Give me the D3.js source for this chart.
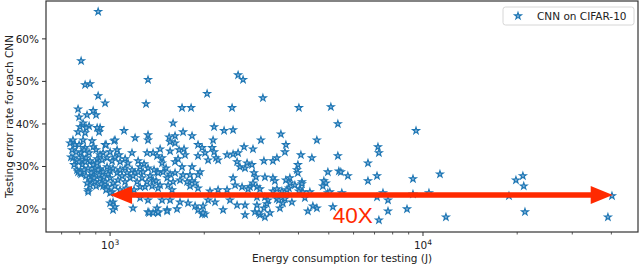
<html>
<head>
<meta charset="utf-8">
<script src="https://d3js.org/d3.v7.min.js"></script>
<style>
  body { margin: 0; background: #fff; }
  svg text { font-family: "DejaVu Sans", sans-serif; fill: #222; }
</style>
</head>
<body>
<script>
// energy (J) per CNN
var energy = [
  916, 808, 832, 863, 916, 964, 790, 796, 844, 883, 1322, 1303, 2565, 2661, 2042, 3079, 1698, 1815, 2454, 4012, 5077,
  9500, 7180, 7230, 6670, 5753, 6670, 7130, 9290, 11330, 7450, 7130, 7730, 7730, 8890, 9290, 10450, 7230, 11840,
  18830, 19820, 20860, 20990, 21180, 39000, 40180, 5504, 4966, 5345,
  3515, 3034, 4580, 2862, 3646, 3620, 4072, 3102, 3314, 3413, 4415, 5345, 3983, 3954, 3983, 4966, 5384, 5463,
  2883, 2926, 3125, 3314, 3363, 3646, 3755, 3896, 4102, 4042, 4350, 3728, 4822, 4894, 5039, 4787, 2862, 2799,
  2947, 3012, 3314, 3413, 3541, 3673, 4193, 4132, 2947, 3125, 3195, 2947, 3171, 2904, 3102, 3012, 3125, 3413,
  3489, 3567, 3811, 4287, 4447, 4580, 5152, 3242, 2991, 2700, 3620, 3464,
  1590, 1711, 1828, 2150, 2314, 2472, 2134, 1544, 1555, 1613, 1613, 1445, 1555, 1661, 1723, 1910, 1968, 2012,
  2118, 2150, 2365, 2472, 2565, 2680, 1736, 1466, 1613, 1649, 1910, 2057, 2181, 2214, 2546, 2740, 1466, 1510,
  1698, 1828, 1939, 2600, 2700, 2841, 1413, 1477, 1555, 1613, 1711, 1801, 1910, 2472, 1522, 1590, 1673, 1762,
  1828, 1869, 1445, 1533, 1801, 1910, 2509, 2641, 2760, 2086, 2214, 2365, 1424, 1578, 1466, 1555, 1673, 1775,
  2057, 2165, 2416, 2546, 2700, 1413, 1522, 1637, 1869, 1982, 2297, 1968, 2012, 1424,
  802, 790, 832, 857, 929, 922, 1108, 1202, 1322, 1322, 761, 773, 820, 876, 883, 832, 808, 857, 964, 1030,
  950, 1000, 1053, 1068, 1037, 929, 909, 761, 784, 814, 832, 863, 978, 1015, 1175, 1229, 1313, 1372, 1413,
  1076, 1117, 784, 790, 808, 883, 896, 883, 876, 909, 929, 950, 978, 1000, 1022, 1053, 1076, 1117, 1133,
  1175, 1202, 1247, 1275, 1322, 1382, 1424, 863, 896, 929, 964, 1000, 1022, 1060, 1117, 1158, 1220, 1265,
  1313, 1372, 863, 851, 950, 985, 1037, 1015, 1247, 1294, 1362, 1000, 1022, 1000, 1037, 1022, 1184, 1247,
  1322, 1322, 1372, 1424, 750, 802, 844, 851, 820, 838, 902, 909, 971, 1037, 1332, 1522, 1982, 1910,
  4102, 4012, 3755,
  767, 779, 796, 814, 826, 838, 851, 870, 889, 902, 922, 936, 957, 971, 985, 916, 838, 826, 796, 943, 902,
  1092, 1141, 1184, 1229, 1284, 1342, 1403, 1076, 1125, 1193, 745, 756
];
// testing error rate (%) for the same CNNs
var errorRate = [
  66.4, 54.8, 49.2, 49.4, 46.6, 44.9, 43.5, 41.6, 42.1, 43.1, 50.4, 44.7, 51.5, 50.4, 47.1, 46.1, 43.8, 43.8, 43.8, 43.8, 44.0,
  38.4, 34.6, 33.2, 30.8, 27.8, 26.6, 27.8, 27.1, 28.2, 23.8, 22.8, 22.1, 19.5, 20.0, 23.5, 23.8, 17.4, 18.1,
  23.1, 26.8, 27.8, 25.4, 19.3, 18.1, 23.1, 23.8, 23.8, 40.0,
  37.6, 36.2, 36.2, 34.1, 35.1, 33.4, 32.7, 31.3, 31.3, 32.0, 32.0, 32.5, 30.4, 29.2, 28.5, 28.7, 28.9, 28.7,
  28.5, 27.5, 27.5, 27.3, 26.6, 26.8, 27.3, 25.6, 26.4, 24.7, 24.0, 24.9, 26.6, 26.1, 24.0, 25.4, 26.1, 25.2,
  25.2, 24.7, 24.2, 24.7, 24.2, 24.5, 22.6, 24.0, 22.8, 22.8, 22.1, 20.9, 21.2, 19.3, 20.2, 18.6, 18.1, 22.4,
  20.2, 21.4, 21.6, 19.5, 20.7, 20.2, 20.5, 19.1, 19.1, 18.6, 22.4, 22.1,
  40.2, 38.1, 37.2, 39.3, 38.4, 38.6, 36.2, 36.9, 35.8, 37.2, 35.5, 34.1, 33.6, 33.9, 34.1, 35.1, 34.4, 33.2,
  34.4, 33.4, 32.7, 32.9, 33.2, 34.6, 32.7, 32.0, 31.1, 31.8, 32.5, 31.5, 32.0, 31.5, 31.1, 30.8, 30.8, 29.6,
  29.9, 29.9, 28.7, 29.9, 29.6, 30.4, 28.7, 28.7, 28.2, 28.5, 28.0, 28.0, 28.0, 27.3, 27.3, 26.4, 26.8, 26.4,
  26.6, 26.1, 25.6, 25.6, 25.4, 24.9, 25.6, 25.2, 24.7, 24.2, 24.5, 24.5, 24.9, 24.5, 22.1, 22.1, 21.6, 21.4,
  22.1, 21.6, 22.1, 20.9, 20.9, 20.2, 19.8, 20.0, 20.7, 20.7, 19.8, 18.8, 18.8, 19.1,
  39.3, 38.1, 37.9, 39.5, 39.1, 38.1, 38.4, 36.7, 37.4, 36.2, 36.2, 35.1, 36.2, 36.0, 34.6, 34.4, 33.2, 33.2, 35.1, 36.0,
  33.2, 33.4, 33.9, 32.7, 32.2, 32.7, 31.8, 32.0, 31.5, 32.2, 31.1, 31.3, 32.0, 31.3, 33.2, 31.3, 33.2, 33.2, 32.5,
  31.1, 31.8, 29.2, 28.7, 28.2, 30.4, 29.6, 28.7, 27.5, 30.8, 29.4, 28.7, 29.9, 28.9, 29.6, 28.5, 29.2, 29.6, 28.5,
  29.2, 28.5, 29.9, 28.7, 29.6, 29.2, 28.5, 26.8, 26.4, 27.1, 26.4, 27.3, 26.1, 26.8, 26.4, 27.3, 26.4, 27.3,
  26.4, 26.8, 25.6, 24.5, 25.4, 25.2, 25.4, 24.0, 25.2, 25.2, 25.4, 23.8, 21.6, 21.4, 20.5, 19.8, 20.2, 22.6,
  22.1, 19.3, 19.1, 19.3, 32.2, 28.5, 26.1, 24.0, 40.2, 39.1, 42.1, 39.1, 35.1, 36.2, 19.1, 19.5, 19.1, 19.8,
  25.9, 24.2, 26.1,
  30.4, 33.4, 35.1, 30.4, 29.2, 27.8, 29.6, 28.5, 27.3, 25.4, 28.0, 25.9, 27.5, 24.5, 28.2, 29.2, 32.0, 33.9, 31.1, 31.5, 33.9,
  27.8, 30.8, 27.8, 28.7, 30.6, 27.8, 26.6, 24.5, 24.9, 24.5, 35.5, 33.9
];
var yTicks = [20, 30, 40, 50, 60];
var xMajor = [1000, 10000];
var xMinor = [700, 800, 900, 2000, 3000, 4000, 5000, 6000, 7000, 8000, 9000, 20000, 30000, 40000];
var seriesName = "CNN on CIFAR-10";
var arrowSpan = [1000, 40400];   // energy range covered by the red arrow
var arrowLevel = 23.3;           // error rate where the arrow sits
var arrowText = "40X";

var W = 640, H = 267;
var pL = 46, pR = 638, pT = 1, pB = 232;

var x = d3.scaleLog().domain([624, 48660]).range([pL, pR]);
var y = d3.scaleLinear().domain([14.6, 68.9]).range([pB, pT]);

var svg = d3.select("body").append("svg").attr("width", W).attr("height", H);

// points
var star = d3.symbol().type(d3.symbolStar).size(14);
svg.append("g").selectAll("path")
  .data(d3.range(energy.length))
  .enter().append("path")
  .attr("d", star)
  .attr("transform", function(i) { return "translate(" + x(energy[i]) + "," + y(errorRate[i]) + ")"; })
  .attr("fill", "#8fb9de")
  .attr("stroke", "#1f77b4")
  .attr("stroke-width", 1.15);

// red arrow
var red = "#ff2a00";
var ay = y(arrowLevel), ax0 = x(arrowSpan[0]), ax1 = x(arrowSpan[1]);
var hl = 22, hw = 9, sw = 2.8;
svg.append("path")
  .attr("d", "M" + ax0 + "," + ay +
    "L" + (ax0 + hl) + "," + (ay - hw) + "L" + (ax0 + hl) + "," + (ay - sw) +
    "L" + (ax1 - hl) + "," + (ay - sw) + "L" + (ax1 - hl) + "," + (ay - hw) +
    "L" + ax1 + "," + ay +
    "L" + (ax1 - hl) + "," + (ay + hw) + "L" + (ax1 - hl) + "," + (ay + sw) +
    "L" + (ax0 + hl) + "," + (ay + sw) + "L" + (ax0 + hl) + "," + (ay + hw) + "Z")
  .attr("fill", red);
svg.append("text")
  .attr("x", x(5150)).attr("y", y(16.6))
  .style("font-family", "'Liberation Sans', Arial, sans-serif")
  .style("font-size", "22.5px").style("fill", red)
  .text(arrowText);

// axes frame
svg.append("rect").attr("x", pL).attr("y", pT)
  .attr("width", pR - pL).attr("height", pB - pT)
  .attr("fill", "none").attr("stroke", "#333").attr("stroke-width", 1.2);

// y ticks
var yg = svg.append("g");
yTicks.forEach(function(t) {
  yg.append("line").attr("x1", pL - 4).attr("x2", pL).attr("y1", y(t)).attr("y2", y(t))
    .attr("stroke", "#333").attr("stroke-width", 1);
  yg.append("text").attr("x", pL - 7).attr("y", y(t)).attr("dy", "0.36em")
    .attr("text-anchor", "end").style("font-size", "10.5px").text(t + "%");
});

// x ticks
var xg = svg.append("g");
xMinor.forEach(function(t) {
  if (x(t) < pL || x(t) > pR) return;
  xg.append("line").attr("x1", x(t)).attr("x2", x(t)).attr("y1", pB).attr("y2", pB + 2.5)
    .attr("stroke", "#333").attr("stroke-width", 0.8);
});
xMajor.forEach(function(t) {
  xg.append("line").attr("x1", x(t)).attr("x2", x(t)).attr("y1", pB).attr("y2", pB + 4)
    .attr("stroke", "#333").attr("stroke-width", 1);
  var lab = xg.append("text").attr("x", x(t)).attr("y", pB + 17)
    .attr("text-anchor", "middle").style("font-size", "10.5px");
  lab.append("tspan").text("10");
  lab.append("tspan").attr("dy", "-4").style("font-size", "7.5px").text(Math.round(Math.log10(t)));
});

// axis labels
svg.append("text").attr("x", (pL + pR) / 2).attr("y", 262)
  .attr("text-anchor", "middle").style("font-size", "10.5px")
  .text("Energy consumption for testing (J)");
svg.append("text").attr("transform", "translate(13," + ((pT + pB) / 2) + ") rotate(-90)")
  .attr("text-anchor", "middle").style("font-size", "10.5px")
  .text("Testing error rate for each CNN");

// legend
var lg = svg.append("g");
lg.append("rect").attr("x", 503).attr("y", 7).attr("width", 131).attr("height", 18)
  .attr("rx", 2.5).attr("fill", "#fff").attr("stroke", "#ccc").attr("stroke-width", 0.8);
lg.append("path").attr("d", star).attr("transform", "translate(518,16)")
  .attr("fill", "#8fb9de").attr("stroke", "#1f77b4").attr("stroke-width", 1.15);
lg.append("text").attr("x", 537).attr("y", 16).attr("dy", "0.36em")
  .style("font-size", "10.5px").text(seriesName);
</script>
</body>
</html>
